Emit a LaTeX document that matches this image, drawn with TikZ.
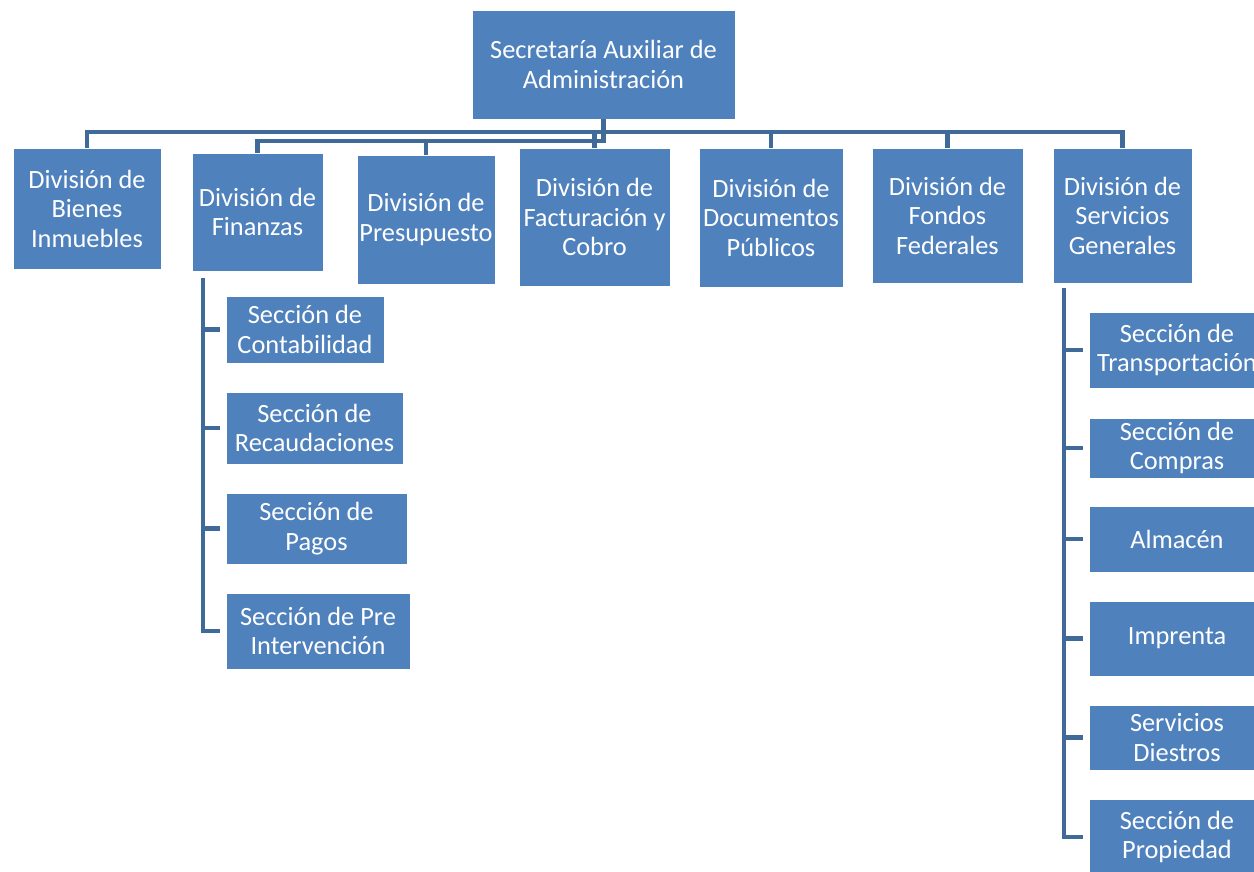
\documentclass[tikz,border=0pt]{standalone}
\usepackage{fontspec}
\setmainfont{Carlito}
\usepackage{xcolor}
\usepackage{tikz}
\definecolor{BoxBlue}{HTML}{4F81BD}
\definecolor{LinkBlue}{HTML}{3F6A9A}

\begin{document}
\begin{tikzpicture}[
    box/.style={fill=BoxBlue, draw=white, thin, text=white, align=center,
      inner sep=0pt, font=\fontsize{15}{16.8}\selectfont},
    link/.style={draw=LinkBlue, line width=2.8pt}
  ]
      \clip (0,0) rectangle (25.08,-17.44);

      % Head office
      \node[box, minimum width=5.26cm, minimum height=2.18cm] (sec) at (12.07,-1.29) {Secretaría Auxiliar de\\Administración};

      % Divisions
      \node[box, minimum width=2.96cm, minimum height=2.42cm] (bienes) at (1.74,-4.17) {División de\\Bienes\\Inmuebles};
      \node[box, minimum width=2.62cm, minimum height=2.36cm] (finanzas) at (5.15,-4.24) {División de\\Finanzas};
      \node[box, minimum width=2.76cm, minimum height=2.58cm] (presup) at (8.52,-4.39) {División de\\Presupuesto};
      \node[box, minimum width=3.02cm, minimum height=2.76cm] (factur) at (11.89,-4.34) {División de\\Facturación y\\Cobro};
      \node[box, minimum width=2.88cm, minimum height=2.78cm] (docs) at (15.42,-4.35) {División de\\Documentos\\Públicos};
      \node[box, minimum width=3.02cm, minimum height=2.70cm] (fondos) at (18.95,-4.31) {División de\\Fondos\\Federales};
      \node[box, minimum width=2.78cm, minimum height=2.70cm] (servgen) at (22.45,-4.31) {División de\\Servicios\\Generales};

      % Sections of Finanzas
      \node[box, minimum width=3.16cm, minimum height=1.34cm] (conta) at (6.10,-6.59) {Sección de\\Contabilidad};
      \node[box, minimum width=3.54cm, minimum height=1.44cm] (recaud) at (6.29,-8.56) {Sección de\\Recaudaciones};
      \node[box, minimum width=3.62cm, minimum height=1.42cm] (pagos) at (6.33,-10.57) {Sección de\\Pagos};
      \node[box, minimum width=3.68cm, minimum height=1.52cm] (preint) at (6.36,-12.62) {Sección de Pre\\Intervención};

      % Sections of Servicios Generales
      \node[box, minimum width=3.52cm, minimum height=1.52cm] (transp) at (23.54,-7.00) {Sección de\\Transportación};
      \node[box, minimum width=3.52cm, minimum height=1.20cm] (compras) at (23.54,-8.96) {Sección de\\Compras};
      \node[box, minimum width=3.52cm, minimum height=1.32cm] (almacen) at (23.54,-10.78) {Almacén};
      \node[box, minimum width=3.52cm, minimum height=1.50cm] (imprenta) at (23.54,-12.77) {Imprenta};
      \node[box, minimum width=3.52cm, minimum height=1.30cm] (diestros) at (23.54,-14.75) {Servicios\\Diestros};
      \node[box, minimum width=3.52cm, minimum height=1.52cm] (propiedad) at (23.54,-16.74) {Sección de\\Propiedad};

      % Buses
      \coordinate (busA) at (0,-2.64);
      \coordinate (busB) at (0,-2.82);
      \coordinate (finV) at (4.06,-5.56);
      \coordinate (servV) at (21.28,-5.76);

      \draw[link] (bienes.north) -- (bienes.north |- busA) -- (servgen.north |- busA) -- (servgen.north);
      \foreach \n in {factur,docs,fondos}
        \draw[link] (\n.north) -- (\n.north |- busA);
      \draw[link] (sec.south) -- (sec.south |- busB) -| (finanzas.north);
      \draw[link] (presup.north) -- (presup.north |- busB);

      % Finanzas branch
      \draw[link] (finV) -- (finV |- preint.west) -- ++(0.34,0);
      \foreach \n in {conta,recaud,pagos}
        \draw[link] (finV |- \n.west) -- ++(0.34,0);

      % Servicios Generales branch
      \draw[link] (servV) -- (servV |- propiedad.west) -- ++(0.38,0);
      \foreach \n in {transp,compras,almacen,imprenta,diestros}
        \draw[link] (servV |- \n.west) -- ++(0.38,0);
    \end{tikzpicture}
\end{document}
